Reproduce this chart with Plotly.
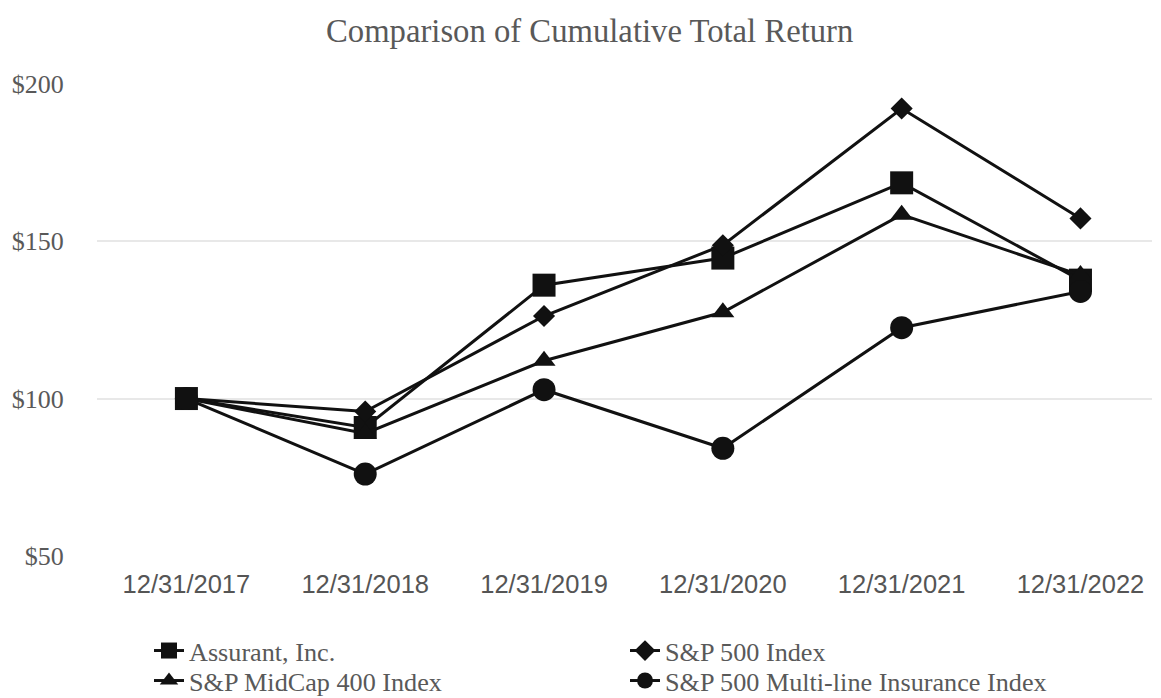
import plotly.graph_objects as go

dates = ["12/31/2017", "12/31/2018", "12/31/2019", "12/31/2020", "12/31/2021", "12/31/2022"]
assurant = [100, 90.8, 136.0, 144.6, 168.5, 137.6]
sp500 = [100, 95.9, 126.2, 148.7, 192.1, 157.2]
midcap400 = [100, 88.9, 112.0, 127.4, 158.4, 139.2]
multiline = [100, 76.0, 102.8, 84.2, 122.5, 134.0]

names = ["Assurant, Inc.", "S&P 500 Index", "S&P MidCap 400 Index", "S&P 500 Multi-line Insurance Index"]
series = [assurant, sp500, midcap400, multiline]
symbols = ["square", "diamond", "triangle-up", "circle"]
sizes = [23, 17, 20, 23]
legend_ids = ["legend", "legend", "legend2", "legend2"]

serif = "Liberation Serif, Times New Roman, serif"
sans = "Liberation Sans, Arial, sans-serif"

fig = go.Figure()
for nm, ys, sym, sz, lg in zip(names, series, symbols, sizes, legend_ids):
    fig.add_trace(go.Scatter(
        x=list(range(len(dates))), y=ys, name=nm, mode="lines+markers",
        line=dict(color="#111111", width=3),
        marker=dict(symbol=sym, size=sz, color="#111111"),
        legend=lg,
    ))

legend_common = dict(orientation="h", xanchor="left", yref="container", yanchor="middle",
                     entrywidth=431, entrywidthmode="pixels", tracegroupgap=0,
                     font=dict(family=serif, size=26.2, color="#595959"),
                     itemwidth=30, bgcolor="rgba(0,0,0,0)")

fig.update_layout(
    width=1161, height=698,
    paper_bgcolor="white", plot_bgcolor="white",
    margin=dict(l=89, r=17, t=75, b=150, autoexpand=False),
    title=dict(text="Comparison of Cumulative Total Return", x=0.501, xanchor="center",
               y=0.967, yanchor="middle",
               font=dict(family=serif, size=32.7, color="#595959")),
    xaxis=dict(tickmode="array", tickvals=list(range(len(dates))), ticktext=dates,
               range=[-0.5, 5.4], showgrid=False, zeroline=False, showline=False,
               automargin=False,
               tickfont=dict(family=sans, size=25.5, color="#555555"),
               ticks="outside", ticklen=5, tickcolor="rgba(0,0,0,0)"),
    yaxis=dict(range=[50, 200.2], tickvals=[50, 100, 150, 200],
               ticktext=["$50", "$100", "$150", "$200"],
               showgrid=True, gridcolor="#e8e8e8", gridwidth=1.5, zeroline=False,
               automargin=False,
               tickfont=dict(family=serif, size=26, color="#595959"),
               ticks="outside", ticklen=27, tickcolor="rgba(0,0,0,0)"),
    legend=dict(x=0.0493, y=1 - 643 / 698, **legend_common),
    legend2=dict(x=0.0493, y=1 - 673 / 698, **legend_common),
    showlegend=True,
)

fig.write_html("out.html")
